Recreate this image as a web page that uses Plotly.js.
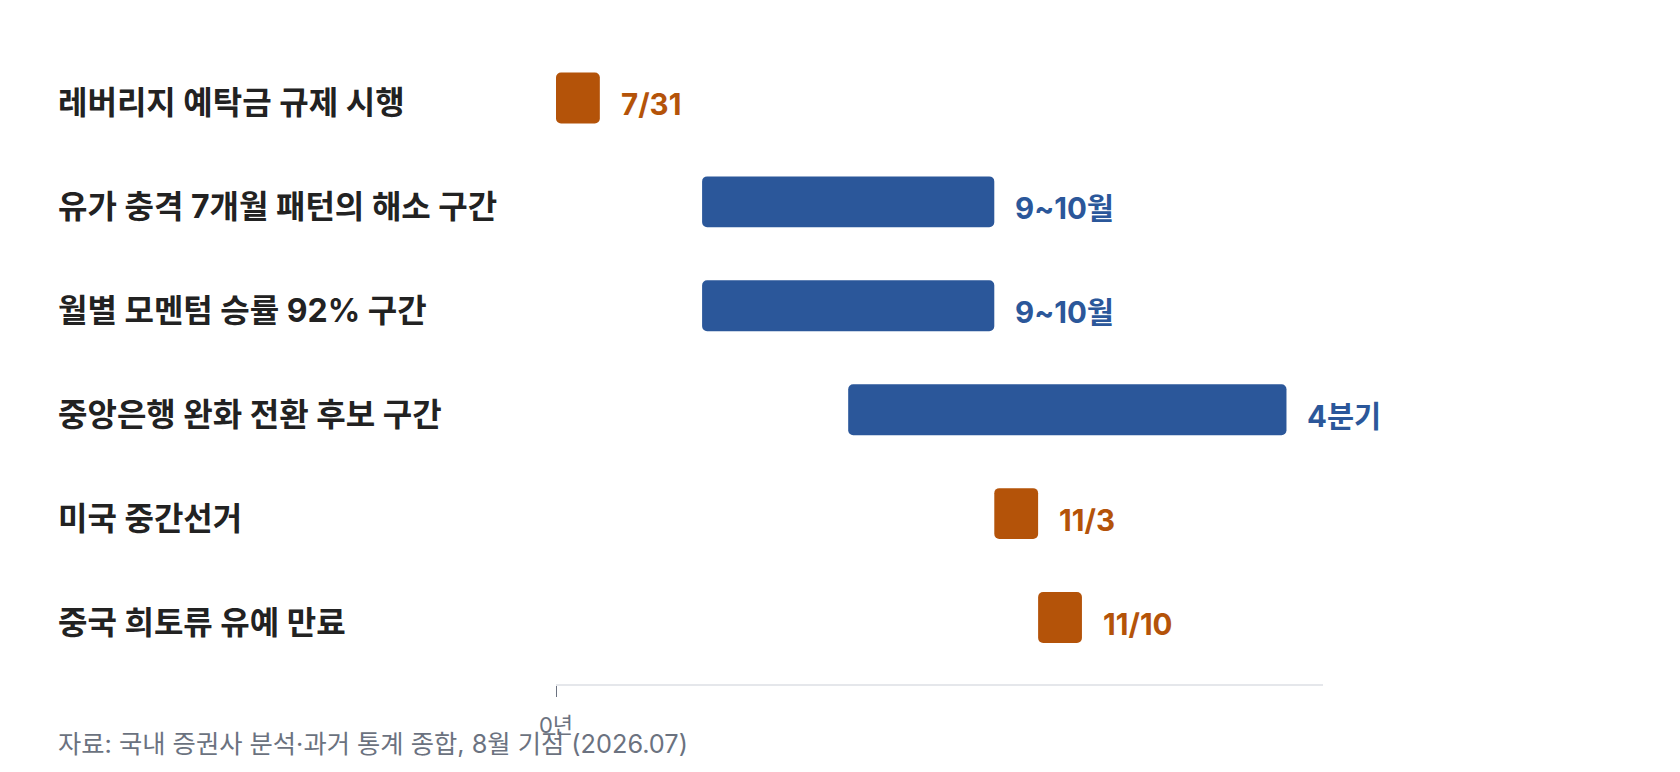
<!DOCTYPE html>
<html>
<head>
<meta charset="utf-8">
<script src="https://cdn.plot.ly/plotly-3.0.1.min.js"></script>
<style>
  html, body { margin: 0; padding: 0; background: #fff; }
  #chart { width: 1680px; height: 772px; }
</style>
</head>
<body>
<div id="chart"></div>
<script>
// 일정 (8월 1일 = 0, 단위: 개월)
const events = ['레버리지 예탁금 규제 시행', '유가 충격 7개월 패턴의 해소 구간', '월별 모멘텀 승률 92% 구간',
                '중앙은행 완화 전환 후보 구간', '미국 중간선거', '중국 희토류 유예 만료'];
const starts = [0, 1, 1, 2, 3, 3.3];
const lengths = [0.3, 2, 2, 3, 0.3, 0.3];
const endLabels = ['7/31', '9~10월', '9~10월', '4분기', '11/3', '11/10'];
const kinds = ['point', 'range', 'range', 'range', 'point', 'point'];
const tickVals = [0];
const tickText = ['0년'];
const sourceText = '자료: 국내 증권사 분석·과거 통계 종합, 8월 기점 (2026.07)';

const colors = { point: '#b45309', range: '#2b579a' };
const fontFam = 'Inter, "Noto Sans CJK KR", sans-serif';

const trace = {
    type: 'bar',
    orientation: 'h',
    y: events,
    x: lengths,
    base: starts,
    width: 0.49,
    marker: { color: kinds.map(k => colors[k]), cornerradius: 5 },
    hoverinfo: 'skip',
    showlegend: false
};

let annots = [];
// 왼쪽 항목 이름
events.forEach((e, i) => {
    annots.push({
        xref: 'paper', x: 0, xshift: -500, xanchor: 'left',
        yref: 'y', y: e, yanchor: 'middle', yshift: -5,
        text: e, showarrow: false,
        font: { family: fontFam, size: 32, color: '#222222', weight: 700 }
    });
});
// 막대 끝 라벨
events.forEach((e, i) => {
    annots.push({
        xref: 'x', x: starts[i] + lengths[i], xshift: 19, xanchor: 'left',
        yref: 'y', y: e, yanchor: 'middle', yshift: -6,
        text: endLabels[i], showarrow: false,
        font: { family: fontFam, size: 29.5, color: colors[kinds[i]], weight: 700 }
    });
});
annots.push({
    xref: 'paper', x: 0, xshift: -500, xanchor: 'left',
    yref: 'paper', y: -0.0925, yanchor: 'middle',
    text: sourceText, showarrow: false,
    font: { family: fontFam, size: 25.3, color: '#6b7280' }
});

const layout = {
    width: 1680, height: 772,
    margin: { l: 556, r: 357, t: 46, b: 88 },
    paper_bgcolor: '#ffffff',
    plot_bgcolor: '#ffffff',
    font: { family: fontFam },
    xaxis: {
        range: [0, 5.25],
        tickvals: tickVals, ticktext: tickText,
        showgrid: false, zeroline: false,
        showline: true, linecolor: '#e5e7eb', linewidth: 2,
        ticks: 'outside', ticklen: 11, tickcolor: '#6b7280', tickwidth: 1,
        ticklabelstandoff: 10,
        tickfont: { family: fontFam, size: 22, color: '#6b7280' },
        fixedrange: true
    },
    yaxis: {
        type: 'category',
        categoryorder: 'array', categoryarray: events,
        range: [5.64, -0.5],
        showticklabels: false, showgrid: false, zeroline: false, showline: false,
        fixedrange: true
    },
    annotations: annots,
    hovermode: false
};

Plotly.newPlot('chart', [trace], layout, { displayModeBar: false, staticPlot: true });
</script>
</body>
</html>
